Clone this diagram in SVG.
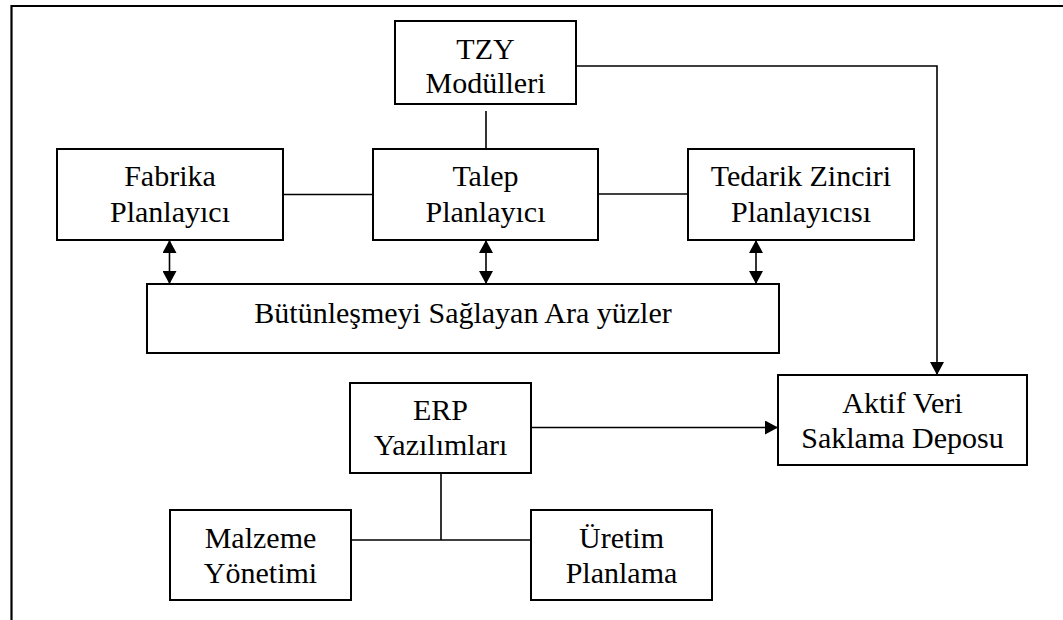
<svg xmlns="http://www.w3.org/2000/svg" width="1063" height="620" viewBox="0 0 1063 620">
  <style>
    .box { fill: #ffffff; stroke: #000000; stroke-width: 2; }
    .frame { fill: none; stroke: #000000; stroke-width: 2.2; }
    .link { fill: none; stroke: #000000; stroke-width: 1.6; }
    .lbl { font-family: "Liberation Serif", Tinos, "Times New Roman", Times, "DejaVu Serif", serif; font-size: 30px; fill: #000000; text-anchor: middle; }
  </style>
  <defs>
    <marker id="arrowEnd" markerUnits="userSpaceOnUse" markerWidth="14" markerHeight="14" refX="13" refY="7" orient="auto">
      <path d="M0,0 L13,7 L0,14 Z" fill="#000000"/>
    </marker>
    <marker id="arrowStart" markerUnits="userSpaceOnUse" markerWidth="14" markerHeight="14" refX="0" refY="7" orient="auto">
      <path d="M13,0 L0,7 L13,14 Z" fill="#000000"/>
    </marker>
  </defs>

  <rect width="1063" height="620" fill="#ffffff"/>

  <!-- outer frame, running off the right and bottom edges -->
  <path class="frame" d="M11.5,640 L11.5,6 L1080,6"/>

  <g id="connectors">
    <!-- TZY to Talep -->
    <line class="link" x1="486" y1="111" x2="486" y2="149"/>
    <!-- planner row -->
    <line class="link" x1="283" y1="194.5" x2="373" y2="194.5"/>
    <line class="link" x1="598" y1="194" x2="688" y2="194"/>
    <!-- planners to integration interfaces -->
    <line class="link" x1="169.5" y1="240" x2="169.5" y2="284" marker-start="url(#arrowStart)" marker-end="url(#arrowEnd)"/>
    <line class="link" x1="486" y1="240" x2="486" y2="284" marker-start="url(#arrowStart)" marker-end="url(#arrowEnd)"/>
    <line class="link" x1="756" y1="240" x2="756" y2="284" marker-start="url(#arrowStart)" marker-end="url(#arrowEnd)"/>
    <!-- TZY to data store -->
    <path class="link" d="M576,66 L937,66 L937,375" marker-end="url(#arrowEnd)"/>
    <!-- ERP to data store -->
    <line class="link" x1="531" y1="427.5" x2="778" y2="427.5" marker-end="url(#arrowEnd)"/>
    <!-- ERP tree -->
    <line class="link" x1="441" y1="473" x2="441" y2="540"/>
    <line class="link" x1="351" y1="540" x2="531" y2="540"/>
  </g>

  <g id="tzy">
    <rect class="box" x="395" y="21" width="181" height="83"/>
    <text class="lbl" x="485.5" y="58.5">TZY</text>
    <text class="lbl" x="485.5" y="92.5">Modülleri</text>
  </g>

  <g id="fabrika">
    <rect class="box" x="57" y="149" width="226" height="91"/>
    <text class="lbl" x="170" y="186">Fabrika</text>
    <text class="lbl" x="170" y="221.5">Planlayıcı</text>
  </g>

  <g id="talep">
    <rect class="box" x="373" y="149" width="225" height="91"/>
    <text class="lbl" x="485.5" y="186">Talep</text>
    <text class="lbl" x="485.5" y="221.5">Planlayıcı</text>
  </g>

  <g id="tedarik">
    <rect class="box" x="688" y="149" width="226" height="91"/>
    <text class="lbl" x="801" y="186">Tedarik Zinciri</text>
    <text class="lbl" x="801" y="221.5">Planlayıcısı</text>
  </g>

  <g id="arayuz">
    <rect class="box" x="147" y="284" width="632" height="69"/>
    <text class="lbl" x="463" y="322.5">Bütünleşmeyi Sağlayan Ara yüzler</text>
  </g>

  <g id="aktif">
    <rect class="box" x="778" y="375" width="249" height="90"/>
    <text class="lbl" x="902.5" y="412.5">Aktif Veri</text>
    <text class="lbl" x="902.5" y="447.5">Saklama Deposu</text>
  </g>

  <g id="erp">
    <rect class="box" x="350" y="383" width="181" height="90"/>
    <text class="lbl" x="440.5" y="420">ERP</text>
    <text class="lbl" x="440.5" y="455">Yazılımları</text>
  </g>

  <g id="malzeme">
    <rect class="box" x="170" y="510" width="181" height="90"/>
    <text class="lbl" x="260.5" y="547.5">Malzeme</text>
    <text class="lbl" x="260.5" y="582.5">Yönetimi</text>
  </g>

  <g id="uretim">
    <rect class="box" x="531" y="510" width="181" height="90"/>
    <text class="lbl" x="621.5" y="547.5">Üretim</text>
    <text class="lbl" x="621.5" y="582.5">Planlama</text>
  </g>
</svg>
